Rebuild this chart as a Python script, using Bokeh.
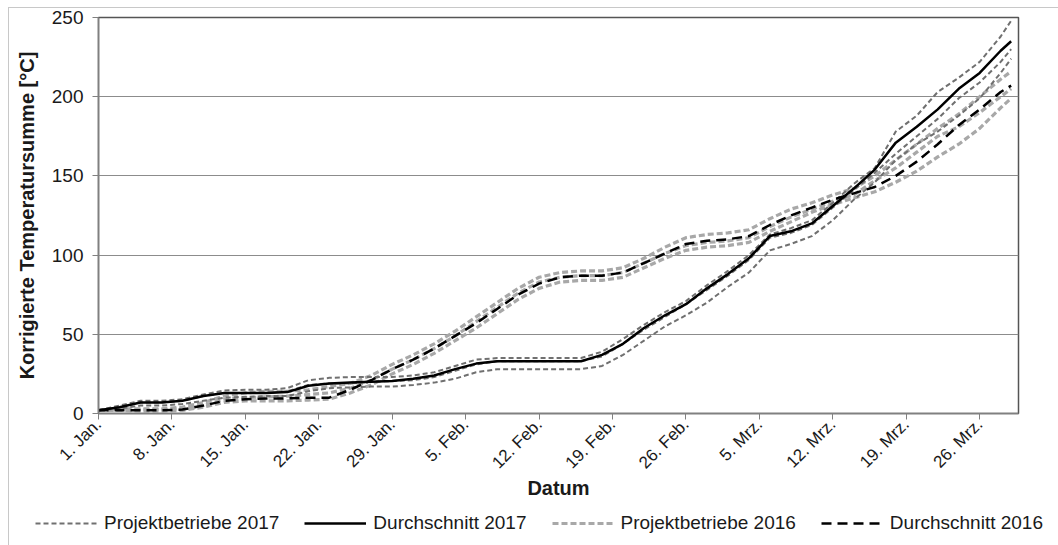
import math
from bokeh.plotting import figure
from bokeh.models import Legend, LegendItem, FixedTicker, Range1d
from bokeh.embed import file_html
from bokeh.resources import INLINE

# Days since 1 Jan
days = list(range(0, 87, 2)) + [87]

tick_days = [0, 7, 14, 21, 28, 35, 42, 49, 56, 63, 70, 77, 84]
tick_labels = ["1. Jan.", "8. Jan.", "15. Jan.", "22. Jan.", "29. Jan.", "5. Feb.",
               "12. Feb.", "19. Feb.", "26. Feb.", "5. Mrz.", "12. Mrz.", "19. Mrz.", "26. Mrz."]

# Durchschnitt 2017
avg_2017 = [2, 4, 7, 7, 8, 11, 13, 13, 13, 13.5, 17.5, 19, 19.5, 20, 20.5, 22, 24, 28, 31.5, 33,
            33, 33, 33, 33, 37, 44, 54, 62, 69, 79, 88, 98, 112, 115, 120, 131, 142, 154, 171, 181,
            192, 205, 215, 229, 235]
# Projektbetriebe 2017
proj_2017_a = [2, 5, 8, 8, 9, 12, 14.5, 15, 15, 16, 21, 22.5, 23, 23, 23, 24, 26, 30, 34, 35,
               35, 35, 35, 35, 39, 47, 56, 64, 71, 81, 90, 100, 113, 117, 122, 133, 145, 155, 178, 188,
               203, 212, 222, 238, 248]
proj_2017_b = [2, 4, 7, 7, 8, 11, 13, 13, 13, 14, 18, 19, 19, 20, 20.5, 21, 23, 27, 31, 33,
               33, 33, 33, 33, 36, 44, 53, 61, 69, 78, 87, 97, 111, 114, 119, 130, 141, 152, 164, 175,
               186, 199, 209, 222, 230]
proj_2017_c = [2, 3, 5, 5, 6, 8, 10, 10.5, 11, 11, 14, 16, 16.5, 17, 17, 18, 19.5, 22, 26, 28,
               28, 28, 28, 28, 30, 37, 46, 55, 62, 70, 80, 89, 103, 107, 112, 122, 135, 146, 160, 170,
               178, 188, 199, 215, 224]

# Durchschnitt 2016
avg_2016 = [2, 2, 2, 2, 2.5, 5, 8, 9, 9.5, 9.5, 10, 10, 15, 21, 28, 34, 41, 49, 57, 66,
            75, 82, 86, 87, 87, 89, 95, 101, 107, 109, 110, 112, 119, 125, 130, 135, 139, 143, 150, 159,
            170, 182, 192, 203, 207]
# Projektbetriebe 2016
proj_2016_a = [2, 3, 3, 3, 4, 7, 11, 13, 14, 14, 15, 17, 19, 24, 31, 37, 44, 52, 61, 70,
               79, 86, 89, 90, 90, 92, 98, 105, 111, 113, 114, 116, 123, 129, 133, 138, 142, 150, 160, 170,
               180, 189, 200, 211, 216]
proj_2016_b = [2, 2, 2.5, 2.5, 3, 5, 9, 10, 10.5, 11, 12, 13, 16, 21, 28, 34, 41, 49, 58, 67,
               76, 83, 86, 87, 87, 89, 95, 101, 106, 108, 109, 111, 118, 124, 129, 134, 138, 147, 155, 165,
               175, 181, 190, 200, 205]
proj_2016_c = [2, 2, 1.5, 1.5, 2, 4, 7, 8, 8, 8, 8.5, 9, 13, 18, 25, 31, 38, 46, 54, 63,
               72, 79, 83, 84, 84, 86, 92, 98, 103, 105, 106, 108, 115, 121, 127, 132, 136, 140, 146, 153,
               162, 170, 180, 193, 199]

FONT = "Liberation Sans"
DARK = "#707070"
LIGHT = "#a8a8a8"
STY_P17 = dict(line_color=DARK, line_width=2, line_dash="5 3")
STY_P16 = dict(line_color=LIGHT, line_width=3.2, line_dash="6 3")
STY_A17 = dict(line_color="black", line_width=2.5)
STY_A16 = dict(line_color="black", line_width=2.5, line_dash="10 6")

p = figure(width=1050, height=494, x_range=Range1d(0, 87.7), y_range=Range1d(0, 250),
           output_backend="svg", toolbar_location=None,
           min_border_left=89, min_border_right=41, min_border_top=9, min_border_bottom=88)
p.margin = (7, 0, 0, 8)
p.styles = {"border-top": "1px solid #c8c8c8", "border-left": "1px solid #c8c8c8"}

p.xgrid.visible = False
p.ygrid.grid_line_color = "#8c8c8c"
p.ygrid.grid_line_width = 1
p.outline_line_color = "#555555"
p.outline_line_width = 1.5

p.xaxis.ticker = FixedTicker(ticks=tick_days)
p.xaxis.major_label_overrides = {d: l for d, l in zip(tick_days, tick_labels)}
p.xaxis.major_label_orientation = math.pi / 4
p.yaxis.ticker = FixedTicker(ticks=[0, 50, 100, 150, 200, 250])
for ax in (p.xaxis[0], p.yaxis[0]):
    ax.axis_line_color = "#808080"
    ax.axis_line_width = 1.5
    ax.major_tick_line_color = "#808080"
    ax.major_tick_out = 6
    ax.major_tick_in = 0
    ax.minor_tick_line_color = None
    ax.major_label_text_font = FONT
    ax.major_label_text_color = "#1a1a1a"
    ax.axis_label_text_font = FONT
    ax.axis_label_text_font_style = "bold"
    ax.axis_label_text_color = "#1a1a1a"
p.xaxis.major_label_text_font_size = "17px"
p.yaxis.major_label_text_font_size = "19px"
p.xaxis.major_label_standoff = 2
p.yaxis.major_label_standoff = 9
p.xaxis.axis_label = "Datum"
p.yaxis.axis_label = "Korrigierte Temperatursumme [°C]"
p.xaxis.axis_label_text_font_size = "20px"
p.yaxis.axis_label_text_font_size = "20px"
p.xaxis.axis_label_standoff = -5
p.yaxis.axis_label_standoff = 11

for s in (proj_2016_a, proj_2016_b, proj_2016_c):
    p.line(days, s, **STY_P16)
for s in (proj_2017_a, proj_2017_b, proj_2017_c):
    p.line(days, s, **STY_P17)
p.line(days, avg_2016, **STY_A16)
p.line(days, avg_2017, **STY_A17)

# legend strip below the chart (its ranges keep the series out of view; only the legend shows)
lg = figure(width=1050, height=44, x_range=Range1d(0, 1), y_range=Range1d(-2, -1),
            output_backend="svg", toolbar_location=None, x_axis_type=None, y_axis_type=None,
            min_border_left=0, min_border_right=0, min_border_top=0, min_border_bottom=0)
lg.margin = (0, 0, 0, 8)
lg.styles = {"border-left": "1px solid #c8c8c8"}
lg.grid.visible = False
lg.outline_line_color = None
k17 = lg.line(days, proj_2017_a, **STY_P17)
a17 = lg.line(days, avg_2017, **STY_A17)
k16 = lg.line(days, proj_2016_a, **STY_P16)
a16 = lg.line(days, avg_2016, **STY_A16)
legend = Legend(items=[
    LegendItem(label="Projektbetriebe 2017", renderers=[k17]),
    LegendItem(label="Durchschnitt 2017", renderers=[a17]),
    LegendItem(label="Projektbetriebe 2016", renderers=[k16]),
    LegendItem(label="Durchschnitt 2016", renderers=[a16]),
], orientation="horizontal", location=(26, 11))
legend.label_text_font = FONT
legend.label_text_font_size = "19px"
legend.label_text_color = "#1a1a1a"
legend.glyph_width = 62
legend.glyph_height = 20
legend.label_standoff = 7
legend.spacing = 25
legend.padding = 0
legend.margin = 0
legend.border_line_alpha = 0
legend.background_fill_alpha = 0
lg.add_layout(legend, "center")

open("out.html", "w").write(file_html([p, lg], INLINE))
